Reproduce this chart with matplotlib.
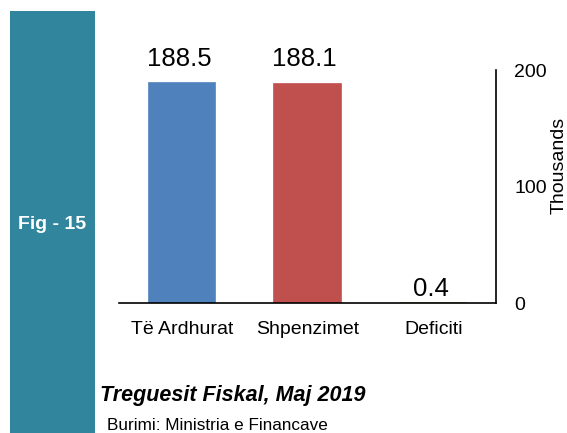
import matplotlib.pyplot as plt
from matplotlib.patches import Rectangle

categories = ['Të Ardhurat', 'Shpenzimet', 'Deficiti']
values = [188.5, 188.1, 0.4]
value_labels = ['188.5', '188.1', '0.4']
colors = ['#4F81BD', '#C0504D', '#9BBB59']
yticks = [0, 100, 200]

plt.rcParams['font.family'] = ['Liberation Sans', 'DejaVu Sans']

fig = plt.figure(figsize=(5.67, 4.33), dpi=100)

# teal side band
fig.patches.append(Rectangle((0.0176, 0), 0.150, 0.975, transform=fig.transFigure,
                             facecolor='#31859C', edgecolor='none', zorder=0))
fig.text(0.092, 0.481, 'Fig - 15', color='white', fontsize=14, fontweight='bold',
         ha='center', va='center')

ax = fig.add_axes([0.2099, 0.3002, 0.665, 0.538])
x = range(len(categories))
bars = ax.bar(x, values, width=0.53, color=colors, edgecolor=colors, linewidth=1.2)
label_offsets = [9, 9, 1]
for b, lab, off in zip(bars, value_labels, label_offsets):
    ax.annotate(lab, (b.get_x() + b.get_width() / 2, b.get_height()),
                xytext=(-2, off), textcoords='offset points',
                ha='center', va='bottom', fontsize=18.5)

ax.set_xlim(-0.5, 2.5)
ax.set_ylim(0, 200)
ax.set_xticks(list(x))
ax.set_xticklabels(categories, fontsize=14)
ax.yaxis.tick_right()
ax.set_yticks(yticks)
ax.set_yticklabels([str(t) for t in yticks], fontsize=14)
ax.tick_params(axis='both', length=0)
ax.tick_params(axis='y', pad=13)
ax.tick_params(axis='x', pad=13)
ax.yaxis.set_label_position('right')
ax.set_ylabel('Thousands', fontsize=14)
ax.yaxis.set_label_coords(1.145, 0.59)
for s in ['top', 'left']:
    ax.spines[s].set_visible(False)
ax.spines['right'].set_linewidth(1.2)
ax.spines['bottom'].set_linewidth(1.2)

fig.text(0.176, 0.087, 'Treguesit Fiskal, Maj 2019', fontsize=15.5, fontweight='bold',
         style='italic', ha='left', va='center')
fig.text(0.189, 0.018, 'Burimi: Ministria e Financave', fontsize=12.3,
         ha='left', va='center')

fig.savefig('out.png', dpi=100)
